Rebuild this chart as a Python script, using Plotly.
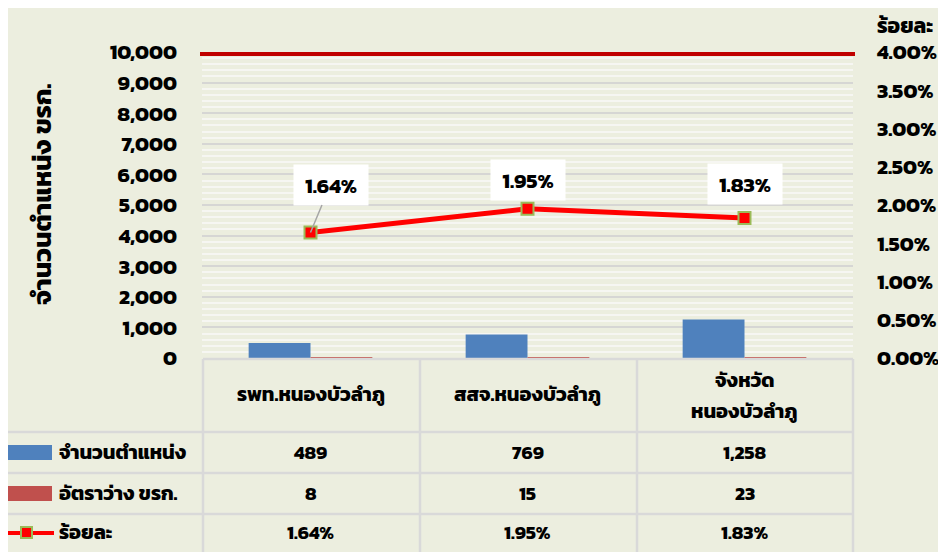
import plotly.graph_objects as go

# ---------------- data ----------------
categories = ["รพท.หนองบัวลำภู", "สสจ.หนองบัวลำภู", "จังหวัด<br>หนองบัวลำภู"]
positions = [489, 769, 1258]          # จำนวนตำแหน่ง
vacant = [8, 15, 23]                  # อัตราว่าง ขรก.
percent = [1.64, 1.95, 1.83]          # ร้อยละ
series_names = ["จำนวนตำแหน่ง", "อัตราว่าง ขรก.", "ร้อยละ"]
left_title = "จำนวนตำแหน่ง ขรก."
right_title = "ร้อยละ"
left_ticks = [0, 1000, 2000, 3000, 4000, 5000, 6000, 7000, 8000, 9000, 10000]
right_ticks = [0, 0.5, 1.0, 1.5, 2.0, 2.5, 3.0, 3.5, 4.0]

# ---------------- style ----------------
OFF = 8                      # page body margin
W, H = 946 - OFF, 552 - OFF
L, R, T, B = 202, 853, 52, 358   # plot area in page pixels
BG = "#eceedf"
FONT = "Kanit, Prompt, 'Noto Sans Thai', Inter, sans-serif"
BLUE = "#4f81bd"
DRED = "#c0504d"
GRID = "#d6d6d4"
TBL = "#d9d9d9"


def pxx(p):
    return (p - L) / (R - L)


def pyy(p):
    return (B - p) / (B - T)


fig = go.Figure()

fig.add_trace(go.Bar(x=categories, y=positions, name=series_names[0],
                     marker=dict(color=BLUE, line=dict(width=0))))
fig.add_trace(go.Bar(x=categories, y=vacant, name=series_names[1],
                     marker=dict(color=DRED, line=dict(width=0))))
fig.add_trace(go.Scatter(x=categories, y=[p / 100 for p in percent], yaxis="y2",
                         name=series_names[2], mode="lines+markers",
                         line=dict(color="#ff0000", width=5),
                         marker=dict(symbol="square", size=12, color="#ff0000",
                                     line=dict(color="#9bbb59", width=2))))

shapes = []
annotations = []

# thick dark-red line at the top of the plot area
shapes.append(dict(type="line", xref="paper", yref="y", x0=pxx(200), x1=pxx(855),
                   y0=10000, y1=10000, line=dict(color="#c00000", width=8), layer="above"))

# data labels
label_offsets = [(20, -48), (0, -29), (0, -34)]
for c, p, (ax, ay) in zip(categories, percent, label_offsets):
    annotations.append(dict(x=c, y=p / 100, xref="x", yref="y2",
                            text=f"<b>{p:.2f}%</b>", showarrow=True,
                            arrowhead=0, arrowwidth=1.5,
                            arrowcolor="#a6a6a6" if ax != 0 else "rgba(0,0,0,0)",
                            ax=ax, ay=ay, bgcolor="white", borderpad=0,
                            width=74, height=40,
                            font=dict(family=FONT, size=21, color="black")))

# ---------------- data table ----------------
col_x = [203, 420, 637, 853]
row_y = [432, 473, 514]
line_style = dict(color=TBL, width=2.5)
shapes.append(dict(type="line", xref="paper", yref="paper", x0=pxx(203), x1=pxx(853),
                   y0=pyy(359), y1=pyy(359), line=line_style))
for yy in row_y:
    shapes.append(dict(type="line", xref="paper", yref="paper", x0=pxx(0), x1=pxx(853),
                       y0=pyy(yy), y1=pyy(yy), line=line_style))
for xx in col_x:
    shapes.append(dict(type="line", xref="paper", yref="paper", x0=pxx(xx), x1=pxx(xx),
                       y0=pyy(359), y1=pyy(560), line=line_style))

# header (multi-line labels split into separate lines)
for c in categories:
    parts = c.split("<br>")
    if len(parts) == 1:
        ys = [394]
    else:
        ys = [380, 411]
    for part, yc in zip(parts, ys):
        annotations.append(dict(x=c, xref="x", yref="paper", y=pyy(yc), text=f"<b>{part}</b>",
                                xanchor="center", yanchor="middle", showarrow=False,
                                font=dict(family=FONT, size=20, color="black")))

row_centers = [452, 493, 532]
rows = [[f"{v:,}" for v in positions], [f"{v:,}" for v in vacant], [f"{v:.2f}%" for v in percent]]
for yc, vals in zip(row_centers, rows):
    for c, v in zip(categories, vals):
        annotations.append(dict(x=c, xref="x", yref="paper", y=pyy(yc), text=f"<b>{v}</b>",
                                xanchor="center", yanchor="middle", showarrow=False,
                                font=dict(family=FONT, size=19, color="black")))

# row legend keys
shapes.append(dict(type="rect", xref="paper", yref="paper", x0=pxx(0), x1=pxx(52),
                   y0=pyy(445), y1=pyy(460), fillcolor=BLUE, line=dict(width=0)))
shapes.append(dict(type="rect", xref="paper", yref="paper", x0=pxx(0), x1=pxx(52),
                   y0=pyy(486), y1=pyy(501), fillcolor=DRED, line=dict(width=0)))
shapes.append(dict(type="line", xref="paper", yref="paper", x0=pxx(0), x1=pxx(54),
                   y0=pyy(533), y1=pyy(533), line=dict(color="#ff0000", width=4)))
shapes.append(dict(type="rect", xref="paper", yref="paper", x0=pxx(21), x1=pxx(32),
                   y0=pyy(527), y1=pyy(538), fillcolor="#ff0000",
                   line=dict(color="#9bbb59", width=2)))
for yc, name in zip(row_centers, series_names):
    annotations.append(dict(xref="paper", yref="paper", x=pxx(57), y=pyy(yc),
                            xanchor="left", yanchor="middle", text=f"<b>{name}</b>",
                            showarrow=False,
                            font=dict(family=FONT, size=20, color="black")))

# axis titles
annotations.append(dict(xref="paper", yref="paper", x=pxx(41), y=pyy(195),
                        xanchor="center", yanchor="middle",
                        text=f"<b>{left_title}</b>", textangle=-90, showarrow=False,
                        font=dict(family=FONT, size=26, color="black")))
annotations.append(dict(xref="paper", yref="paper", x=pxx(905), y=pyy(9),
                        xanchor="center", yanchor="top", height=28, valign="middle",
                        text=f"<b>{right_title}</b>", showarrow=False,
                        font=dict(family=FONT, size=21, color="black")))

fig.update_layout(
    width=W, height=H,
    margin=dict(l=L - OFF, r=(W + OFF) - R, t=T - OFF, b=(H + OFF) - B, pad=0,
                autoexpand=False),
    paper_bgcolor=BG, plot_bgcolor=BG,
    barmode="group", bargap=0.43, bargroupgap=0,
    showlegend=False,
    font=dict(family=FONT, color="black"),
    xaxis=dict(showticklabels=False, showgrid=False, zeroline=False, showline=False,
               ticks="", automargin=False),
    yaxis=dict(range=[0, 10000], tickvals=left_ticks,
               ticktext=[f"<b>{v:,}</b>" for v in left_ticks],
               tickfont=dict(family=FONT, size=21, color="black"),
               showgrid=True, gridcolor=GRID, gridwidth=2, zeroline=False,
               showline=False, ticks="", ticklabelstandoff=24, automargin=False,
               minor=dict(dtick=200, showgrid=True, gridcolor="#f6f6f2", gridwidth=2)),
    yaxis2=dict(range=[0, 0.04], overlaying="y", side="right",
                tickvals=[v / 100 for v in right_ticks],
                ticktext=[f"<b>{v:.2f}%</b>" for v in right_ticks],
                tickfont=dict(family=FONT, size=21, color="black"),
                showgrid=False, zeroline=False, showline=False, ticks="",
                ticklabelstandoff=23, automargin=False),
    shapes=shapes, annotations=annotations,
)

fig.write_html("out.html")
